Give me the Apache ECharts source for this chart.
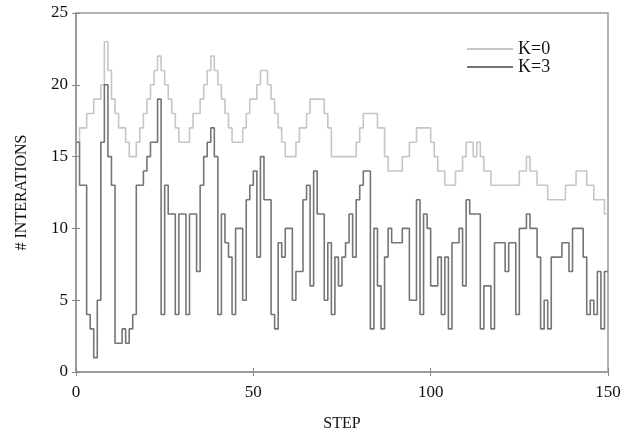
<!DOCTYPE html>
<html>
<head>
<meta charset="utf-8">
<script src="https://cdn.jsdelivr.net/npm/echarts@6/dist/echarts.min.js"></script>
<style>
  html, body { margin: 0; padding: 0; background: #fff; }
  #chart { width: 633px; height: 437px; }
</style>
</head>
<body>
<div id="chart"></div>
<script>
// 横轴刻度
var stepTicks = [0, 50, 100, 150];
var seriesNames = ['K=0', 'K=3'];
// K=0, step 0..150
var k0 = [
  16, 17, 17, 18, 18, 19, 19, 20, 23, 21,
  19, 18, 17, 17, 16, 15, 15, 16, 17, 18,
  19, 20, 21, 22, 21, 20, 19, 18, 17, 16,
  16, 16, 17, 18, 18, 19, 20, 21, 22, 21,
  20, 19, 18, 17, 16, 16, 16, 17, 18, 19,
  19, 20, 21, 21, 20, 19, 18, 17, 16, 15,
  15, 15, 16, 17, 17, 18, 19, 19, 19, 19,
  18, 17, 15, 15, 15, 15, 15, 15, 15, 16,
  17, 18, 18, 18, 18, 17, 17, 15, 14, 14,
  14, 14, 15, 15, 16, 16, 17, 17, 17, 17,
  16, 15, 14, 14, 13, 13, 13, 14, 14, 15,
  16, 16, 15, 16, 15, 14, 14, 13, 13, 13,
  13, 13, 13, 13, 13, 14, 14, 15, 14, 14,
  13, 13, 13, 12, 12, 12, 12, 12, 13, 13,
  13, 14, 14, 14, 13, 13, 12, 12, 12, 11,
  11
];
// K=3, step 0..150
var k3 = [
  16, 13, 13, 4, 3, 1, 5, 16, 20, 15,
  13, 2, 2, 3, 2, 3, 4, 13, 13, 14,
  15, 16, 16, 19, 4, 13, 11, 11, 4, 11,
  11, 4, 11, 11, 7, 13, 15, 16, 17, 15,
  4, 11, 9, 8, 4, 10, 10, 5, 12, 13,
  14, 8, 15, 12, 12, 4, 3, 9, 8, 10,
  10, 5, 7, 7, 12, 13, 6, 14, 11, 11,
  5, 9, 4, 8, 6, 8, 9, 11, 8, 12,
  13, 14, 14, 3, 10, 6, 3, 8, 10, 9,
  9, 9, 10, 10, 5, 5, 12, 4, 11, 10,
  6, 6, 8, 4, 8, 3, 9, 9, 10, 6,
  12, 11, 11, 11, 3, 6, 6, 3, 9, 9,
  9, 7, 9, 9, 4, 10, 10, 11, 10, 10,
  8, 3, 5, 3, 8, 8, 8, 9, 9, 7,
  10, 10, 10, 8, 4, 5, 4, 7, 3, 7,
  7
];

function toPairs(arr) {
  return arr.map(function (v, i) { return [i, v]; });
}

var myChart = echarts.init(document.getElementById('chart'));
var serif = '"Liberation Serif", "DejaVu Serif", serif';
var frameColor = '#9a9a9a';

var option = {
  animation: false,
  backgroundColor: '#fff',
  textStyle: { fontFamily: serif },
  grid: {
    left: 76, right: 25, top: 13, bottom: 64,
    show: true, borderColor: frameColor, borderWidth: 1.5
  },
  legend: {
    orient: 'vertical',
    left: 462,
    top: 35,
    itemWidth: 46,
    itemHeight: 2,
    itemGap: 0,
    icon: 'rect',
    data: seriesNames,
    textStyle: { fontFamily: serif, fontSize: 18, lineHeight: 18, color: '#111' }
  },
  xAxis: [
    {
      type: 'value', min: stepTicks[0], max: stepTicks[stepTicks.length - 1], interval: 50,
      name: 'STEP', nameLocation: 'middle', nameGap: 44,
      nameTextStyle: { fontFamily: serif, fontSize: 16, color: '#111' },
      axisLine: { lineStyle: { color: frameColor, width: 1.5 } },
      axisTick: { inside: true, length: 4, lineStyle: { color: '#888' } },
      axisLabel: { fontFamily: serif, fontSize: 17, color: '#111', margin: 12 },
      splitLine: { show: false }
    },
    {
      type: 'value', position: 'top', min: 0, max: 150, interval: 50,
      axisLine: { show: true, lineStyle: { color: frameColor, width: 1.5 } },
      axisTick: { inside: true, length: 4, lineStyle: { color: '#888' } },
      axisLabel: { show: false },
      splitLine: { show: false }
    }
  ],
  yAxis: [
    {
      type: 'value', min: 0, max: 25, interval: 5,
      name: '# INTERATIONS', nameLocation: 'middle', nameGap: 46,
      nameTextStyle: { fontFamily: serif, fontSize: 16, color: '#111' },
      axisLine: { show: true, lineStyle: { color: frameColor, width: 1.5 } },
      axisTick: { show: true, inside: true, length: 4, lineStyle: { color: '#888' } },
      axisLabel: { fontFamily: serif, fontSize: 17, color: '#111', margin: 8 },
      splitLine: { show: false }
    },
    {
      type: 'value', position: 'right', min: 0, max: 25, interval: 5,
      axisLine: { show: true, lineStyle: { color: frameColor, width: 1.5 } },
      axisTick: { show: true, inside: true, length: 4, lineStyle: { color: '#888' } },
      axisLabel: { show: false },
      splitLine: { show: false }
    }
  ],
  series: [
    {
      name: seriesNames[0], type: 'line', step: 'end',
      showSymbol: false, symbol: 'none',
      itemStyle: { color: '#c6c6c6' },
      lineStyle: { color: '#c6c6c6', width: 1.6 },
      data: toPairs(k0)
    },
    {
      name: seriesNames[1], type: 'line', step: 'end',
      showSymbol: false, symbol: 'none',
      itemStyle: { color: '#757575' },
      lineStyle: { color: '#757575', width: 1.6 },
      data: toPairs(k3)
    }
  ]
};
myChart.setOption(option);
</script>
</body>
</html>
